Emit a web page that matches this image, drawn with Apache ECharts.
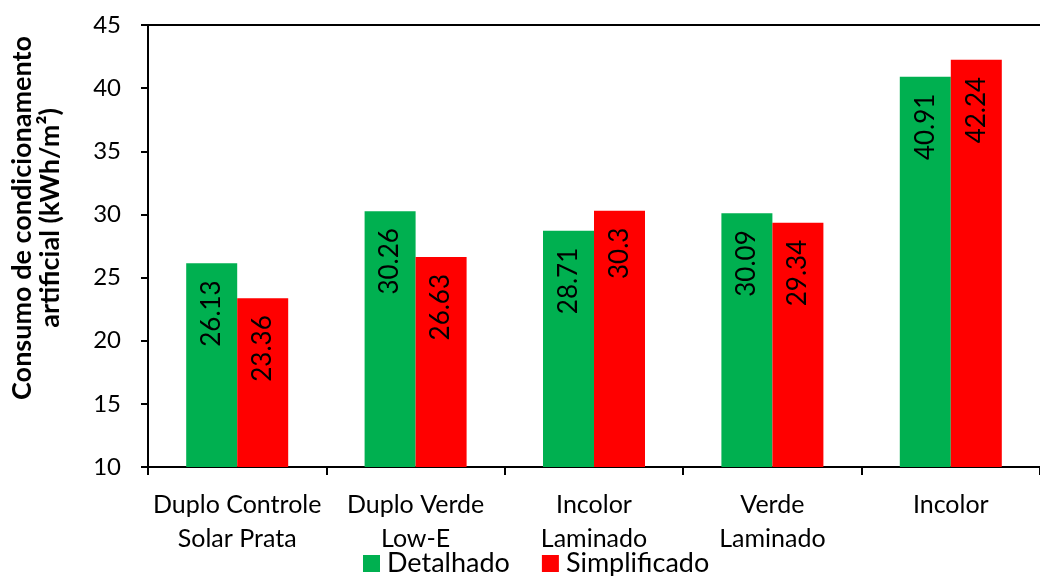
<!DOCTYPE html>
<html>
<head>
<meta charset="utf-8">
<script src="https://cdn.jsdelivr.net/npm/echarts@6/dist/echarts.min.js"></script>
<style>
  html, body { margin: 0; padding: 0; background: #fff; }
  #chart { width: 1040px; height: 576px; }
</style>
</head>
<body>
<div id="chart"></div>
<script>
// Glazing types and conditioning consumption (kWh/m²) per simulation method
const categories = ['Duplo Controle\nSolar Prata', 'Duplo Verde\nLow-E', 'Incolor\nLaminado', 'Verde\nLaminado', 'Incolor'];
const detalhado = [26.13, 30.26, 28.71, 30.09, 40.91];
const simplificado = [23.36, 26.63, 30.3, 29.34, 42.24];
const seriesNames = ['Detalhado', 'Simplificado'];
const yTicks = { min: 10, max: 45, interval: 5 };

const FONT = 'Lato, "Open Sans", sans-serif';

const barLabel = {
  show: true,
  position: 'insideTop',
  rotate: 90,
  align: 'right',
  verticalAlign: 'middle',
  distance: 17,
  color: '#000',
  fontFamily: FONT,
  fontSize: 26,
  formatter: p => String(p.value)
};

const chart = echarts.init(document.getElementById('chart'), null, { renderer: 'canvas' });
chart.setOption({
  animation: false,
  backgroundColor: '#fff',
  grid: { left: 143, top: 25, width: 908, height: 442, containLabel: false },
  legend: {
    data: seriesNames,
    bottom: -6,
    left: 358,
    itemWidth: 17,
    itemHeight: 17,
    itemGap: 32,
    icon: 'rect',
    textStyle: { fontFamily: FONT, fontSize: 27, color: '#000', padding: [0, 0, 0, 2] }
  },
  xAxis: [{
    type: 'category',
    data: categories,
    axisLine: { lineStyle: { color: '#000', width: 2 } },
    axisTick: { show: true, length: 8, lineStyle: { color: '#000', width: 2 } },
    axisLabel: { color: '#000', fontFamily: FONT, fontSize: 25, lineHeight: 34, margin: 21, interval: 0 }
  }, {
    type: 'category',
    data: categories,
    position: 'top',
    axisLine: { show: true, lineStyle: { color: '#000', width: 2 } },
    axisTick: { show: false },
    axisLabel: { show: false }
  }],
  yAxis: {
    type: 'value',
    min: yTicks.min,
    max: yTicks.max,
    interval: yTicks.interval,
    name: 'Consumo de condicionamento\nartificial (kWh/m²)',
    nameLocation: 'middle',
    nameGap: 84,
    nameTextStyle: {
      fontFamily: FONT, fontSize: 27, fontWeight: 'bold', color: '#000',
      lineHeight: 28, padding: [0, 0, 0, 56]
    },
    axisLine: { show: true, lineStyle: { color: '#000', width: 2 } },
    axisTick: { show: true, length: 7, lineStyle: { color: '#000', width: 2 } },
    axisLabel: { color: '#000', fontFamily: FONT, fontSize: 24, margin: 27 },
    splitLine: { show: false }
  },
  series: [{
    name: seriesNames[0],
    type: 'bar',
    data: detalhado,
    barWidth: 51,
    barGap: '0%',
    itemStyle: { color: '#00B050' },
    label: barLabel
  }, {
    name: seriesNames[1],
    type: 'bar',
    data: simplificado,
    barWidth: 51,
    barGap: '0%',
    itemStyle: { color: '#FF0000' },
    label: barLabel
  }]
});
</script>
</body>
</html>
